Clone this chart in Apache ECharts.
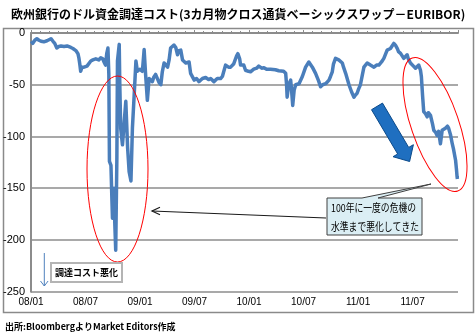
<!DOCTYPE html>
<html><head><meta charset="utf-8">
<script src="https://cdn.jsdelivr.net/npm/echarts@6/dist/echarts.min.js"></script>
<style>html,body{margin:0;padding:0;background:#fff}#c{width:476px;height:336px}</style>
</head><body><div id="c"></div>
<script>
const titleText = '欧州銀行のドル資金調達コスト(3カ月物クロス通貨ベーシックスワップ－EURIBOR)';
const footerText = '出所:BloombergよりMarket Editors作成';
const calloutLines = ['100年に一度の危機の', '水準まで悪化してきた'];
const labelText = '調達コスト悪化';
const xTickLabels = ['08/01','08/07','09/01','09/07','10/01','10/07','11/01','11/07'];
const yMin = -250, yMax = 0, yStep = 50;

const dates = [
'2008-01-02','2008-01-07','2008-01-14','2008-01-21','2008-01-28','2008-02-04','2008-02-13','2008-02-23','2008-02-29','2008-03-07',
'2008-03-14','2008-03-20','2008-03-27','2008-04-03','2008-04-10','2008-04-20','2008-04-30','2008-05-06','2008-05-13','2008-05-20',
'2008-05-30','2008-06-06','2008-06-09','2008-06-12','2008-06-15','2008-06-19','2008-06-26','2008-07-06','2008-07-12','2008-07-19',
'2008-07-26','2008-08-05','2008-08-15','2008-08-22','2008-08-29','2008-09-02','2008-09-07','2008-09-11','2008-09-15','2008-09-18',
'2008-09-20','2008-09-25','2008-09-28','2008-09-30','2008-10-05','2008-10-08','2008-10-11','2008-10-15','2008-10-17','2008-10-23',
'2008-10-25','2008-10-28','2008-11-03','2008-11-09','2008-11-14','2008-11-20','2008-11-25','2008-12-01','2008-12-06','2008-12-12',
'2008-12-18','2008-12-23','2008-12-31','2009-01-09','2009-01-15','2009-01-20','2009-01-26','2009-02-01','2009-02-06','2009-02-11',
'2009-02-15','2009-02-21','2009-03-04','2009-03-10','2009-03-15','2009-03-21','2009-03-27','2009-04-02','2009-04-07','2009-04-12',
'2009-04-23','2009-04-29','2009-05-05','2009-05-09','2009-05-16','2009-05-22','2009-05-26','2009-06-02','2009-06-13','2009-06-18',
'2009-06-30','2009-07-08','2009-07-16','2009-07-28','2009-08-08','2009-08-18','2009-08-25','2009-09-05','2009-09-16','2009-09-27',
'2009-10-03','2009-10-07','2009-10-14','2009-10-24','2009-10-31','2009-11-10','2009-11-16','2009-11-20','2009-11-24','2009-11-30',
'2009-12-03','2009-12-14','2009-12-20','2009-12-30','2010-01-06','2010-01-17','2010-01-27','2010-02-03','2010-02-12','2010-02-19',
'2010-02-27','2010-03-12','2010-03-29','2010-04-09','2010-04-25','2010-05-02','2010-05-05','2010-05-07','2010-05-12','2010-05-19',
'2010-05-22','2010-05-26','2010-05-31','2010-06-05','2010-06-16','2010-06-27','2010-07-08','2010-07-19','2010-07-25','2010-07-31',
'2010-08-11','2010-08-21','2010-08-28','2010-09-04','2010-09-14','2010-09-25','2010-09-30','2010-10-06','2010-10-10','2010-10-17',
'2010-10-28','2010-11-09','2010-11-13','2010-11-20','2010-12-01','2010-12-10','2010-12-18','2010-12-23','2010-12-29','2011-01-03',
'2011-01-09','2011-01-16','2011-01-21','2011-02-01','2011-02-11','2011-02-22','2011-03-02','2011-03-10','2011-03-19','2011-03-27',
'2011-04-07','2011-04-18','2011-04-29','2011-05-05','2011-05-11','2011-05-15','2011-05-22','2011-06-02','2011-06-13','2011-06-17',
'2011-06-24','2011-07-04','2011-07-11','2011-07-22','2011-07-28','2011-07-31','2011-08-04','2011-08-08','2011-08-14','2011-08-20',
'2011-08-24','2011-08-31','2011-09-07','2011-09-11','2011-09-17','2011-09-22','2011-09-27','2011-10-03','2011-10-09','2011-10-13',
'2011-10-20','2011-10-27','2011-10-31','2011-11-06','2011-11-12','2011-11-16','2011-11-23','2011-11-26','2011-11-28','2011-11-29'
];
const values = [
-8,-10,-7,-5.5,-7,-8,-8.5,-7.5,-7,-5.5,
-8,-10,-14.5,-13,-12.5,-13,-12.5,-13,-14,-15,
-17,-20,-24,-30,-37,-33,-33,-32,-31,-27,
-26,-25,-26,-24,-25,-28,-31,-20,-14.5,-40,
-124,-128,-160,-179,-150,-185,-210,-120,-27,-11,
-50,-92,-108,-85,-66,-111,-134,-143,-92,-60,
-27,-37,-35,-37,-16,-40,-65,-44,-45,-47,
-43,-40,-48,-50,-37.5,-29,-30,-33,-26,-14.5,
-11.6,-14,-21,-17,-16.5,-26,-25,-29,-28,-39,
-45.5,-44,-47,-44,-43,-45,-44,-47,-44,-44,
-42,-38,-31,-33,-33,-30,-29,-22,-20,-25,
-31,-31,-36,-37,-37.5,-35,-34,-32,-34,-33.5,
-35,-35,-35.5,-36.5,-37,-39,-50,-62,-50,-45.5,
-55,-70,-55,-50,-49,-42,-33,-28,-29,-33,
-39,-46,-52,-50,-49,-45.5,-42,-37.5,-30,-24.5,
-26,-29,-33,-39,-50,-57,-62,-60,-58,-54,
-50,-40,-33,-29,-31,-33,-31,-31,-28,-24.5,
-16.5,-15,-10,-12,-15,-18,-19.7,-24.5,-21,-25,
-29,-32,-34,-31,-36,-42,-60,-76,-78,-81,
-77,-79.5,-88,-94,-96,-99,-95,-107,-94,-95,
-92,-90,-92,-98,-107,-112,-123,-132,-139,-141
];

function monthIndex(s) {
  const p = s.split('-').map(Number);
  const dim = new Date(p[0], p[1], 0).getDate();
  return (p[0] - 2008) * 12 + (p[1] - 1) + (p[2] - 1) / dim;
}
const seriesData = dates.map((d, i) => [monthIndex(d), values[i]]);

const jp = '"Noto Sans CJK JP", sans-serif';
const num = '"Liberation Sans", Arial, sans-serif';

// blue block arrow geometry (annotation)
const bx = [[382.5,103.1],[408.7,147.4],[413.4,144.7],[409.6,161.5],[393.0,156.7],[397.7,154.0],[371.5,109.7]];

const chart = echarts.init(document.getElementById('c'), null, {renderer: 'canvas'});
chart.setOption({
  animation: false,
  backgroundColor: '#fff',
  grid: {left: 30, right: 18, top: 33, bottom: 44.3, containLabel: false},
  xAxis: {
    type: 'value', min: 0, max: 47, interval: 6,
    axisLine: {show: true, lineStyle: {color: '#8c8c8c', width: 2}},
    axisTick: {show: true, inside: true, length: 3, lineStyle: {color: '#8c8c8c'}},
    minorTick: {show: true, splitNumber: 6, length: 2, lineStyle: {color: '#8c8c8c'}},
    splitLine: {show: false},
    axisLabel: {
      margin: 6, color: '#000', fontSize: 10, fontFamily: num, showMaxLabel: false,
      formatter: v => (Math.abs(v % 6) < 1e-6 ? (xTickLabels[Math.round(v / 6)] || '') : '')
    }
  },
  yAxis: {
    type: 'value', min: yMin, max: yMax, interval: yStep,
    axisLine: {show: true, lineStyle: {color: '#8c8c8c', width: 2}},
    axisTick: {show: false},
    splitLine: {show: true, lineStyle: {color: '#8c8c8c', width: 1.5}},
    axisLabel: {margin: 6, color: '#000', fontSize: 11, fontFamily: num}
  },
  series: [{
    type: 'line', data: seriesData, showSymbol: false, symbol: 'none',
    lineStyle: {color: '#4a7ebb', width: 3.5, join: 'round'},
    z: 3
  }],
  graphic: [
    {type: 'rect', shape: {x: 3.5, y: 28.5, width: 470, height: 284}, style: {fill: 'none', stroke: '#8a8a8a', lineWidth: 1.5}, silent: true, z: 0},
    {type: 'text', left: 11, top: 8, style: {text: titleText, font: 'bold 12px ' + jp, fill: '#000'}},
    {type: 'text', left: 5, top: 322, style: {text: footerText, font: 'bold 9px ' + jp, fill: '#000'}},
    {type: 'ellipse', shape: {cx: 117.5, cy: 169, rx: 30.5, ry: 93}, style: {fill: 'none', stroke: '#ff0000', lineWidth: 1}, z: 10},
    {type: 'ellipse', x: 435, y: 124.5, rotation: 0.33, shape: {cx: 0, cy: 0, rx: 23.8, ry: 70.3}, style: {fill: 'none', stroke: '#ff0000', lineWidth: 1}, z: 10},
    {type: 'polygon', shape: {points: bx}, style: {fill: '#1f6fc0', stroke: '#0b4a8a', lineWidth: 1}, z: 10},
    {type: 'polygon', shape: {points: [[327,198],[362,198],[431,184],[378,198],[422,198],[422,235],[327,235]]},
      style: {fill: '#dbeef4', stroke: '#404040', lineWidth: 1}, z: 10},
    {type: 'text', x: 331, y: 198, scaleX: 0.8, style: {text: calloutLines.join('\n'), font: '11px ' + jp, lineHeight: 19, fill: '#000'}, z: 11},
    {type: 'polyline', shape: {points: [[326,218],[152,211]]}, style: {stroke: '#1a1a1a', lineWidth: 1.2}, z: 10},
    {type: 'polyline', shape: {points: [[160,207.3],[152,211],[160,214.7]]}, style: {stroke: '#1a1a1a', lineWidth: 1.2, fill: 'none'}, z: 10},
    {type: 'polyline', shape: {points: [[44.3,253],[44.3,286]]}, style: {stroke: '#4f81bd', lineWidth: 1}, z: 10},
    {type: 'polyline', shape: {points: [[40.5,281],[44.3,286],[48.1,281]]}, style: {stroke: '#4f81bd', lineWidth: 1, fill: 'none'}, z: 10},
    {type: 'rect', shape: {x: 51, y: 263, width: 71, height: 19}, style: {fill: '#fff', stroke: '#b4b4b4', lineWidth: 2}, z: 10},
    {type: 'text', x: 86.5, y: 272.5, style: {text: labelText, font: 'bold 9px ' + jp, fill: '#000', align: 'center', verticalAlign: 'middle'}, z: 11}
  ]
});
</script></body></html>
